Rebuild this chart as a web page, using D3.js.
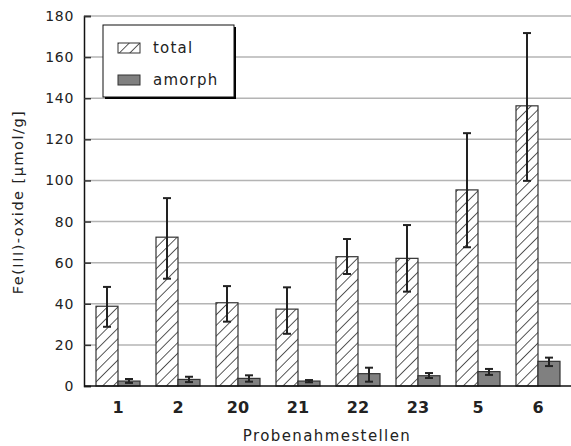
<!DOCTYPE html>
<html>
<head>
<meta charset="utf-8">
<script src="https://cdn.jsdelivr.net/npm/d3@7"></script>
<style>
  body { margin: 0; background: #fff; }
  text { font-family: "DejaVu Sans", sans-serif; fill: #222; }
</style>
</head>
<body>
<div id="viz"></div>
<script>
// sampling sites
var sites = ['1', '2', '20', '21', '22', '23', '5', '6'];
var series = ['total', 'amorph'];

// Fe(III)-oxide, µmol/g
var totalVal  = [38.8, 72.4, 40.5, 37.4, 62.9, 62.1, 95.4, 136.3];
var totalLow  = [28.8, 52.2, 31.3, 25.4, 54.5, 45.9, 67.5, 99.8];
var totalHigh = [48.2, 91.4, 48.6, 48.0, 71.5, 78.3, 123.0, 171.7];

var amorphVal  = [2.4, 3.2, 3.7, 2.4, 6.0, 5.0, 7.0, 12.0];
var amorphLow  = [1.5, 1.9, 2.1, 1.8, 2.1, 3.9, 5.4, 9.7];
var amorphHigh = [3.4, 4.5, 5.2, 2.9, 8.9, 6.3, 8.3, 13.8];

var yTicks = d3.range(0, 181, 20);

var width = 571, height = 446;
var margin = {top: 16, right: 0, bottom: 60, left: 84};

var svg = d3.select('#viz')
  .append('svg')
  .attr('width', width)
  .attr('height', height);

var defs = svg.append('defs');
var pat = defs.append('pattern')
  .attr('id', 'hatch')
  .attr('patternUnits', 'userSpaceOnUse')
  .attr('width', 7.5)
  .attr('height', 7.5)
  .attr('patternTransform', 'rotate(45)');
pat.append('rect').attr('width', 7.5).attr('height', 7.5).attr('fill', '#fff');
pat.append('line')
  .attr('x1', 0).attr('y1', 0).attr('x2', 0).attr('y2', 7.5)
  .attr('stroke', '#000').attr('stroke-width', 1.3);

var y = d3.scaleLinear()
  .domain([0, 180])
  .range([height - margin.bottom, margin.top]);

var x0 = d3.scaleBand()
  .domain(sites)
  .range([88, 568]);

var x1 = d3.scaleBand()
  .domain(series)
  .range([0, 44]);

var off = (x0.bandwidth() - 44) / 2;

// grid
svg.append('g')
  .selectAll('line')
  .data(yTicks.slice(1))
  .join('line')
  .attr('x1', margin.left)
  .attr('x2', width)
  .attr('y1', d => y(d))
  .attr('y2', d => y(d))
  .attr('stroke', '#b4b4b4')
  .attr('stroke-width', 1.5);

// y axis
var yAxis = svg.append('g')
  .attr('transform', `translate(${margin.left},0)`)
  .call(d3.axisLeft(y).tickValues(yTicks).tickSize(-7).tickPadding(10));
yAxis.select('.domain').attr('stroke', '#111').attr('stroke-width', 1.5);
yAxis.selectAll('.tick line').attr('stroke', '#333').attr('stroke-width', 1.5);
yAxis.selectAll('text')
  .style('font-family', '"DejaVu Sans", sans-serif')
  .style('font-size', '14px')
  .style('letter-spacing', '0.7px')
  .attr('fill', '#222');

var rows = sites.map(function(s, i) {
  return [
    {site: s, key: 'total', v: totalVal[i], lo: totalLow[i], hi: totalHigh[i]},
    {site: s, key: 'amorph', v: amorphVal[i], lo: amorphLow[i], hi: amorphHigh[i]}
  ];
}).flat();

var bx = d => x0(d.site) + off + x1(d.key);

svg.append('g')
  .selectAll('rect')
  .data(rows)
  .join('rect')
  .attr('x', bx)
  .attr('width', x1.bandwidth())
  .attr('y', d => y(d.v))
  .attr('height', d => y(0) - y(d.v))
  .attr('fill', d => d.key == 'total' ? 'url(#hatch)' : '#808080')
  .attr('stroke', '#333')
  .attr('stroke-width', 1.2);

// error bars
var eb = svg.append('g')
  .attr('stroke', '#222')
  .attr('stroke-width', 2);
var cx = d => bx(d) + x1.bandwidth() / 2;
eb.selectAll('.v')
  .data(rows)
  .join('line')
  .attr('x1', cx).attr('x2', cx)
  .attr('y1', d => y(d.lo)).attr('y2', d => y(d.hi));
eb.selectAll('.t')
  .data(rows.flatMap(d => [{d: d, e: d.lo}, {d: d, e: d.hi}]))
  .join('line')
  .attr('x1', o => cx(o.d) - 4).attr('x2', o => cx(o.d) + 4)
  .attr('y1', o => y(o.e)).attr('y2', o => y(o.e));

// baseline
svg.append('line')
  .attr('x1', margin.left).attr('x2', width)
  .attr('y1', y(0)).attr('y2', y(0))
  .attr('stroke', '#111').attr('stroke-width', 1.5);

// x labels
svg.append('g')
  .selectAll('text')
  .data(sites)
  .join('text')
  .attr('x', d => x0(d) + x0.bandwidth() / 2)
  .attr('y', 413)
  .attr('text-anchor', 'middle')
  .style('font-size', '16px')
  .style('font-weight', 'bold')
  .attr('fill', '#111')
  .text(d => d);

svg.append('text')
  .attr('x', 327)
  .attr('y', 441)
  .attr('text-anchor', 'middle')
  .style('font-size', '15px')
  .style('letter-spacing', '1.4px')
  .text('Probenahmestellen');

svg.append('text')
  .attr('transform', 'translate(23,202) rotate(-90)')
  .attr('text-anchor', 'middle')
  .style('font-size', '14.5px')
  .style('letter-spacing', '1.5px')
  .text('Fe(III)-oxide [µmol/g]');

// legend
var lg = svg.append('g');
lg.append('rect')
  .attr('x', 105).attr('y', 27).attr('width', 131).attr('height', 72)
  .attr('fill', '#000');
lg.append('rect')
  .attr('x', 103).attr('y', 25).attr('width', 131).attr('height', 72)
  .attr('fill', '#fff').attr('stroke', '#111').attr('stroke-width', 1);
var items = lg.selectAll('g.it')
  .data(series)
  .join('g')
  .attr('transform', (d, i) => `translate(118,${43 + i * 32})`);
items.append('rect')
  .attr('width', 22).attr('height', 10)
  .attr('fill', d => d == 'total' ? 'url(#hatch)' : '#808080')
  .attr('stroke', '#333').attr('stroke-width', 1);
items.append('text')
  .attr('x', 35).attr('y', 10)
  .style('font-size', '15px')
  .style('letter-spacing', '1.2px')
  .text(d => d);
</script>
</body>
</html>
